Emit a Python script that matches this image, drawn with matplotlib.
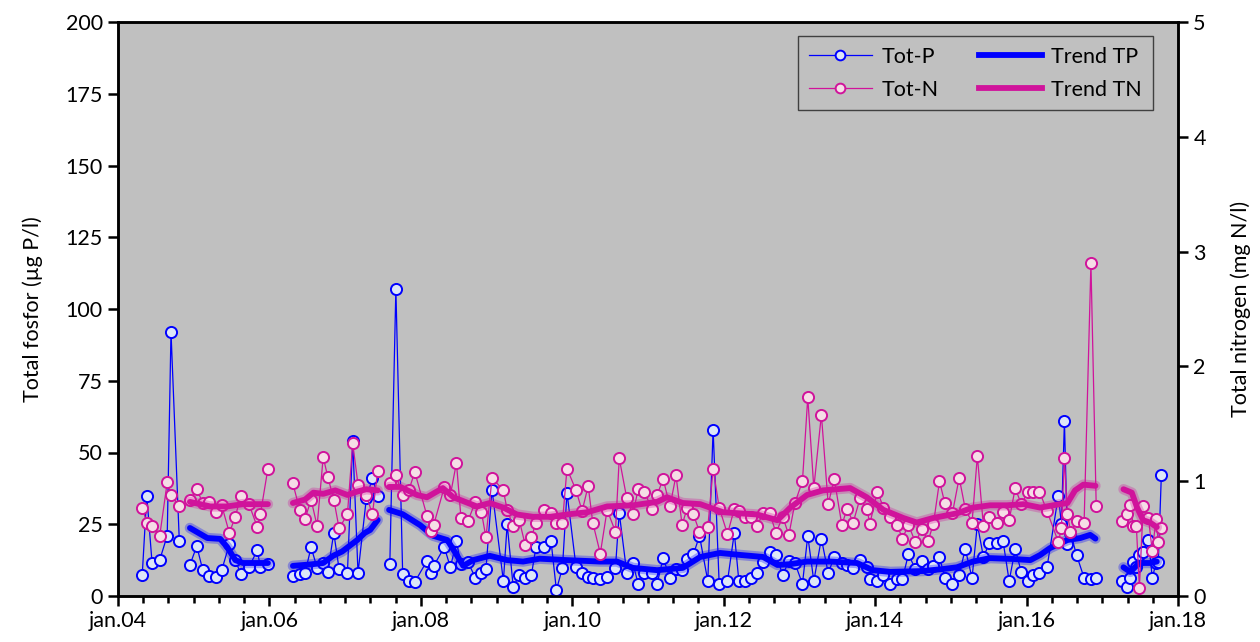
import matplotlib
matplotlib.use("Agg")
import matplotlib.pyplot as plt
from matplotlib.ticker import MultipleLocator, FixedLocator
from matplotlib.lines import Line2D
import numpy as np

plt.rcParams['font.family'] = ['Lato', 'DejaVu Sans']

nan = np.nan

# sample dates (decimal years), NaN = break between sampling periods
dates = [2004.32, 2004.38, 2004.45, 2004.55, 2004.65, 2004.70, 2004.81, nan,
         2004.95, 2005.04, 2005.12, 2005.20, 2005.29, 2005.37, 2005.47, 2005.55,
         2005.62, 2005.73, 2005.84, 2005.88, 2005.98, nan,
         2006.31, 2006.40, 2006.47, 2006.55, 2006.63, 2006.71, 2006.77, 2006.85,
         2006.92, 2007.03, 2007.10, 2007.17, 2007.28, 2007.36, 2007.43, nan,
         2007.59, 2007.67, 2007.76, 2007.84, 2007.92, 2008.08, 2008.13, 2008.17,
         2008.31, 2008.39, 2008.47, 2008.53, 2008.62, 2008.72, 2008.80, 2008.86,
         2008.94, 2009.09, 2009.14, 2009.22, 2009.30, 2009.38, 2009.46, 2009.52,
         2009.63, 2009.72, 2009.79, 2009.87, 2009.93, 2010.05, 2010.13, 2010.21,
         2010.27, 2010.37, 2010.46, 2010.57, 2010.62, 2010.72, 2010.80, 2010.87,
         2010.95, 2011.05, 2011.12, 2011.20, 2011.29, 2011.37, 2011.45, 2011.52,
         2011.60, 2011.68, 2011.79, 2011.86, 2011.94, 2012.05, 2012.14, 2012.20,
         2012.28, 2012.36, 2012.44, 2012.52, 2012.61, 2012.69, 2012.78, 2012.86,
         2012.94, 2013.04, 2013.11, 2013.19, 2013.29, 2013.38, 2013.46, 2013.56,
         2013.63, 2013.71, 2013.80, 2013.89, 2013.93, 2014.03, 2014.11, 2014.20,
         2014.29, 2014.36, 2014.44, 2014.53, 2014.62, 2014.70, 2014.77, 2014.85,
         2014.92, 2015.02, 2015.11, 2015.19, 2015.28, 2015.35, 2015.43, 2015.51,
         2015.61, 2015.69, 2015.77, 2015.85, 2015.93, 2016.02, 2016.09, 2016.17,
         2016.27, 2016.42, 2016.46, 2016.50, 2016.54, 2016.58, 2016.66, 2016.76,
         2016.85, 2016.92, nan,
         2017.26, 2017.32, 2017.37, 2017.41, 2017.45, 2017.49, 2017.54, 2017.61,
         2017.66, 2017.71, 2017.74, 2017.78]

# total phosphorus, ug P/l
tot_p = [7.3, 35, 11.5, 12.5, 21, 92, 19, nan,
         10.8, 17.4, 9, 7, 6.6, 9, 18, 12.5,
         7.7, 10, 16, 10, 11, nan,
         7, 7.7, 8, 17, 9.8, 11.5, 8.4, 22,
         9.4, 8, 54, 8, 34, 41, 35, nan,
         11, 107, 7.5, 5.2, 4.9, 12.2, 8, 10.5,
         17, 10, 19, 11, 12, 6.3, 8, 9.4,
         37, 5.2, 25, 3.1, 7.3, 6.3, 7.3, 17,
         17, 19, 2.1, 9.8, 36, 10, 8, 6.6,
         6.3, 5.9, 6.6, 9.8, 29, 8, 11.5, 4.2,
         8, 8, 4.2, 13.2, 6.3, 9.4, 9, 13,
         14.5, 21, 5.2, 58, 4.2, 5.2, 22, 5.2,
         5.2, 6.3, 8, 12, 15.3, 14.3, 7.3, 12.2,
         11.5, 4.2, 21, 5.2, 20, 8, 13.6, 11.5,
         10.8, 9.8, 12.5, 10, 5.9, 5.2, 7.3, 4.2,
         6, 5.9, 14.6, 9.4, 12.2, 9.4, 10.5, 13.6,
         6.3, 4.2, 7.3, 16.4, 6.3, 25, 13.6, 18.5,
         18.5, 19, 5.2, 16.4, 8.4, 5.2, 7.3, 8,
         10, 35, 25, 61, 18, 22, 14.3, 6.3,
         6.0, 6.3, nan,
         5.4, 3.1, 6.3, 12, 10, 14.3, 15.3, 19.5,
         6.3, 11.5, 12, 42]

# total nitrogen, mg N/l
tot_n = [0.77, 0.64, 0.61, 0.52, 0.99, 0.88, 0.78, nan,
         0.84, 0.93, 0.81, 0.82, 0.73, 0.79, 0.55, 0.69,
         0.87, 0.80, 0.60, 0.71, 1.11, nan,
         0.98, 0.75, 0.67, 0.84, 0.61, 1.21, 1.04, 0.84,
         0.59, 0.71, 1.33, 0.97, 0.88, 0.71, 1.09, nan,
         0.98, 1.05, 0.88, 0.92, 1.08, 0.70, 0.57, 0.62,
         0.95, 0.88, 1.16, 0.68, 0.65, 0.82, 0.73, 0.51,
         1.03, 0.92, 0.75, 0.61, 0.66, 0.44, 0.51, 0.64,
         0.75, 0.72, 0.64, 0.64, 1.11, 0.92, 0.74, 0.96,
         0.64, 0.37, 0.75, 0.56, 1.20, 0.85, 0.71, 0.93,
         0.91, 0.76, 0.88, 1.02, 0.78, 1.05, 0.62, 0.77,
         0.71, 0.56, 0.60, 1.11, 0.77, 0.54, 0.76, 0.74,
         0.69, 0.69, 0.61, 0.72, 0.72, 0.55, 0.69, 0.53,
         0.81, 1.00, 1.73, 0.94, 1.58, 0.80, 1.02, 0.62,
         0.76, 0.64, 0.85, 0.76, 0.63, 0.91, 0.77, 0.69,
         0.62, 0.50, 0.62, 0.47, 0.58, 0.48, 0.63, 1.00,
         0.81, 0.72, 1.03, 0.76, 0.64, 1.22, 0.61, 0.69,
         0.64, 0.73, 0.66, 0.94, 0.80, 0.91, 0.91, 0.91,
         0.74, 0.47, 0.59, 1.20, 0.71, 0.56, 0.65, 0.64,
         2.90, 0.78, nan,
         0.65, 0.71, 0.79, 0.61, 0.61, 0.07, 0.78, 0.68,
         0.39, 0.67, 0.47, 0.59]

# trend lines
trend_p_dates = [2004.95, 2005.18, 2005.35, 2005.44, 2005.55, 2005.65, 2005.98, nan,
                 2006.31, 2006.54, 2006.71, 2006.84, 2006.96, 2007.16, 2007.26, 2007.33, 2007.43, nan,
                 2007.58, 2007.76, 2007.99, 2008.16, 2008.35, 2008.48, 2008.56, 2008.69,
                 2008.91, 2009.14, 2009.35, 2009.57, 2009.93, 2010.37, 2010.59, 2010.80,
                 2011.12, 2011.46, 2011.69, 2011.95, 2012.22, 2012.52, 2012.71, 2012.88,
                 2013.10, 2013.41, 2013.76, 2013.97, 2014.20, 2014.63, 2014.90, 2015.08,
                 2015.29, 2015.52, 2015.82, 2016.05, 2016.18, 2016.31, 2016.54, 2016.71,
                 2016.84, 2016.91, nan,
                 2017.28, 2017.37, 2017.46, 2017.54, 2017.63, 2017.72]
trend_p = [23.7, 20.2, 19.9, 17.1, 12.5, 11.5, 11.5, nan,
           10.5, 11, 11.5, 14, 15.5, 19.5, 22, 23, 26.5, nan,
           30, 28.5, 24.7, 21, 19.5, 14, 10.5, 12.5,
           14, 12.5, 12, 13, 12.5, 12, 12, 9.8,
           9, 9.8, 13.6, 15, 14.3, 13.6, 10.8, 11.1,
           12, 12, 11.5, 9, 8.4, 8.7, 9.4, 10,
           12, 13.2, 12.9, 12.5, 14.3, 16.7, 19.5, 20.2,
           21.3, 20, nan,
           10, 8.4, 10.8, 11.5, 11.5, 12]

trend_n_dates = [2004.95, 2005.22, 2005.44, 2005.65, 2005.98, nan,
                 2006.31, 2006.47, 2006.58, 2006.71, 2006.87, 2007.03, 2007.16, 2007.28, 2007.43, nan,
                 2007.58, 2007.73, 2007.95, 2008.08, 2008.29, 2008.43, 2008.74, 2008.91,
                 2009.09, 2009.27, 2009.48, 2009.71, 2009.93, 2010.20, 2010.46, 2010.80,
                 2011.12, 2011.25, 2011.46, 2011.69, 2011.99, 2012.44, 2012.71, 2012.88,
                 2013.10, 2013.31, 2013.67, 2013.89, 2014.11, 2014.37, 2014.55, 2014.77,
                 2015.08, 2015.29, 2015.52, 2015.74, 2015.96, 2016.18, 2016.35, 2016.54,
                 2016.64, 2016.75, 2016.91, nan,
                 2017.28, 2017.39, 2017.46, 2017.54, 2017.63, 2017.72]
trend_n = [0.82, 0.78, 0.78, 0.80, 0.80, nan,
           0.81, 0.84, 0.90, 0.89, 0.92, 0.88, 0.91, 0.93, 0.92, nan,
           0.95, 0.95, 0.88, 0.86, 0.94, 0.86, 0.78, 0.81,
           0.77, 0.71, 0.69, 0.69, 0.71, 0.73, 0.78, 0.79,
           0.82, 0.86, 0.81, 0.80, 0.73, 0.71, 0.66, 0.77,
           0.88, 0.92, 0.94, 0.86, 0.75, 0.68, 0.64, 0.68,
           0.72, 0.77, 0.79, 0.79, 0.80, 0.77, 0.79, 0.81,
           0.92, 0.97, 0.96, nan,
           0.93, 0.90, 0.77, 0.66, 0.64, 0.60]

x_ticks = [2004, 2006, 2008, 2010, 2012, 2014, 2016, 2018]
x_labels = ['jan.04', 'jan.06', 'jan.08', 'jan.10', 'jan.12', 'jan.14', 'jan.16', 'jan.18']

BLUE = '#0000ff'
PINK = '#d0139b'
FS = 15.5

fig = plt.figure(figsize=(12.6, 6.42), dpi=100)
ax = fig.add_axes([118 / 1260, 1 - 596 / 642, 1060 / 1260, 574 / 642])
ax.set_facecolor('#c0c0c0')
ax2 = ax.twinx()

# fosfor på venstre akse
ax.plot(dates, tot_p, color=BLUE, lw=0.9, marker='o', ms=8, mfc='#dde6f7',
        mec=BLUE, mew=1.4, zorder=3)
ax.plot(trend_p_dates, trend_p, color=BLUE, lw=7.5, alpha=0.3,
        solid_capstyle='round', zorder=4)
ax.plot(trend_p_dates, trend_p, color=BLUE, lw=4.2, solid_capstyle='round', zorder=5)

# nitrogen på høyre akse
ax2.plot(dates, tot_n, color=PINK, lw=0.9, marker='o', ms=8, mfc='#f5dde6',
         mec=PINK, mew=1.4, zorder=3)
ax2.plot(trend_n_dates, trend_n, color=PINK, lw=7.5, alpha=0.3,
         solid_capstyle='round', zorder=4)
ax2.plot(trend_n_dates, trend_n, color=PINK, lw=4.2, solid_capstyle='round', zorder=5)

ax.set_xlim(2004, 2018)
ax.set_ylim(0, 200)
ax2.set_ylim(0, 5)
ax.yaxis.set_major_locator(MultipleLocator(25))
ax2.yaxis.set_major_locator(MultipleLocator(1))
ax.xaxis.set_major_locator(FixedLocator(x_ticks))
ax.set_xticklabels(x_labels)
ax.xaxis.set_minor_locator(MultipleLocator(1 / 3))

for a in (ax, ax2):
    for sp in a.spines.values():
        sp.set_linewidth(1.8)
        sp.set_color('black')
    a.tick_params(axis='both', which='major', direction='out', length=7,
                  width=1.8, labelsize=FS, pad=4)
    a.tick_params(axis='x', which='minor', direction='out', length=5, width=1.8)

ax.set_ylabel('Total fosfor (µg P/l)', fontsize=FS, labelpad=16)
ax2.set_ylabel('Total nitrogen (mg N/l)', fontsize=FS, labelpad=18)

# legend med håndtak fra begge akser
handles = [
    Line2D([], [], color=BLUE, lw=0.9, marker='o', ms=7, mfc='#dde6f7', mec=BLUE, mew=1.4),
    Line2D([], [], color=PINK, lw=0.9, marker='o', ms=7, mfc='#f5dde6', mec=PINK, mew=1.4),
    Line2D([], [], color=BLUE, lw=4.2),
    Line2D([], [], color=PINK, lw=4.2),
]
labels = ['Tot-P', 'Tot-N', 'Trend TP', 'Trend TN']
leg = ax2.legend(handles, labels, ncol=2, loc='upper right',
                 bbox_to_anchor=(1035 / 1060, 1 - 14 / 574), borderaxespad=0,
                 fontsize=FS, frameon=True, fancybox=False, edgecolor='#404040',
                 facecolor='#c0c0c0', framealpha=1, handlelength=2.9,
                 handletextpad=0.45, columnspacing=1.9, labelspacing=0.6,
                 borderpad=0.5)
leg.get_frame().set_linewidth(1.0)

fig.savefig('out.png', dpi=100)
